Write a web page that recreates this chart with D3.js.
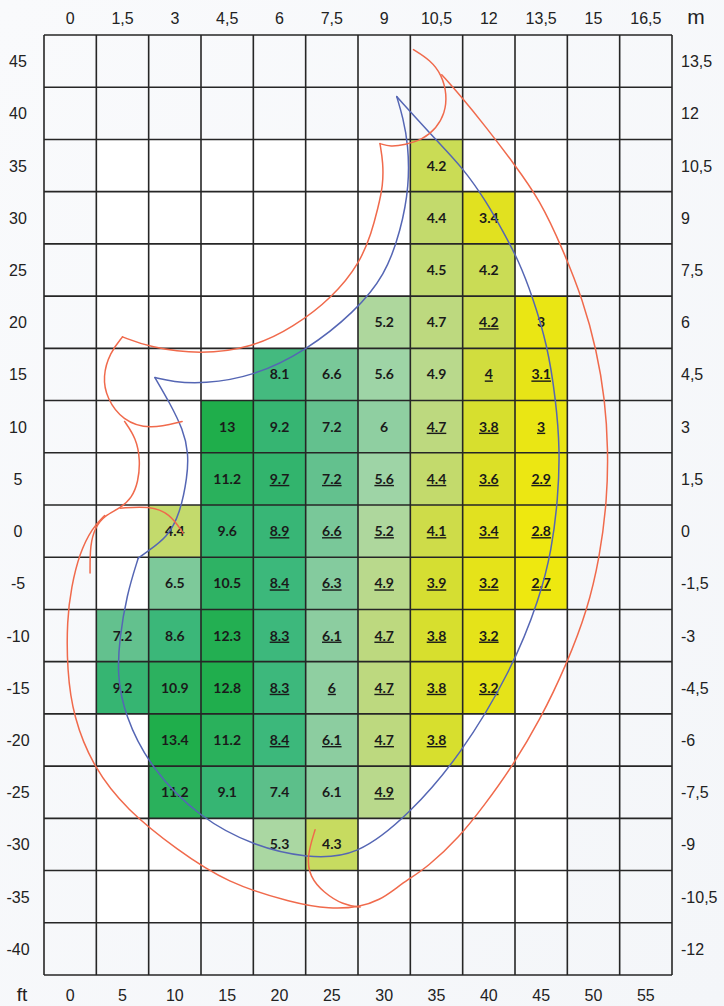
<!DOCTYPE html>
<html>
<head>
<meta charset="utf-8">
<script src="https://cdn.jsdelivr.net/npm/d3@7"></script>
<style>
  html, body { margin: 0; padding: 0; background: #f6f7f9; }
  svg { display: block; }
</style>
</head>
<body>
<svg id="chart" width="724" height="1006"></svg>
<script>
// ---------- DATA ----------
const colsFt = [0, 5, 10, 15, 20, 25, 30, 35, 40, 45, 50, 55];
const rowsFt = [45, 40, 35, 30, 25, 20, 15, 10, 5, 0, -5, -10, -15, -20, -25, -30, -35, -40];
const topLabels = ["0", "1,5", "3", "4,5", "6", "7,5", "9", "10,5", "12", "13,5", "15", "16,5"];
const rightLabels = ["13,5", "12", "10,5", "9", "7,5", "6", "4,5", "3", "1,5", "0", "-1,5", "-3", "-4,5", "-6", "-7,5", "-9", "-10,5", "-12"];

// values per row (rows top->bottom, columns left->right), null = empty cell
const _ = null;
const valueGrid = [
  [_, _, _, _, _, _, _, _, _, _, _, _],
  [_, _, _, _, _, _, _, _, _, _, _, _],
  [_, _, _, _, _, _, _, 4.2, _, _, _, _],
  [_, _, _, _, _, _, _, 4.4, 3.4, _, _, _],
  [_, _, _, _, _, _, _, 4.5, 4.2, _, _, _],
  [_, _, _, _, _, _, 5.2, 4.7, 4.2, 3, _, _],
  [_, _, _, _, 8.1, 6.6, 5.6, 4.9, 4, 3.1, _, _],
  [_, _, _, 13, 9.2, 7.2, 6, 4.7, 3.8, 3, _, _],
  [_, _, _, 11.2, 9.7, 7.2, 5.6, 4.4, 3.6, 2.9, _, _],
  [_, _, 4.4, 9.6, 8.9, 6.6, 5.2, 4.1, 3.4, 2.8, _, _],
  [_, _, 6.5, 10.5, 8.4, 6.3, 4.9, 3.9, 3.2, 2.7, _, _],
  [_, 7.2, 8.6, 12.3, 8.3, 6.1, 4.7, 3.8, 3.2, _, _, _],
  [_, 9.2, 10.9, 12.8, 8.3, 6, 4.7, 3.8, 3.2, _, _, _],
  [_, _, 13.4, 11.2, 8.4, 6.1, 4.7, 3.8, _, _, _, _],
  [_, _, 11.2, 9.1, 7.4, 6.1, 4.9, _, _, _, _, _],
  [_, _, _, _, 5.3, 4.3, _, _, _, _, _, _],
  [_, _, _, _, _, _, _, _, _, _, _, _],
  [_, _, _, _, _, _, _, _, _, _, _, _]
];
// underlined values (1 = underlined)
const underlineGrid = [
  [0,0,0,0,0,0,0,0,0,0,0,0],
  [0,0,0,0,0,0,0,0,0,0,0,0],
  [0,0,0,0,0,0,0,0,0,0,0,0],
  [0,0,0,0,0,0,0,0,0,0,0,0],
  [0,0,0,0,0,0,0,0,0,0,0,0],
  [0,0,0,0,0,0,0,0,1,0,0,0],
  [0,0,0,0,0,0,0,0,1,1,0,0],
  [0,0,0,0,0,0,0,1,1,1,0,0],
  [0,0,0,0,1,1,1,1,1,1,0,0],
  [0,0,0,0,1,1,1,1,1,1,0,0],
  [0,0,0,0,1,1,1,1,1,1,0,0],
  [0,0,0,0,1,1,1,1,1,0,0,0],
  [0,0,0,0,1,1,1,1,1,0,0,0],
  [0,0,0,0,1,1,1,1,0,0,0,0],
  [0,0,0,0,0,0,1,0,0,0,0,0],
  [0,0,0,0,0,0,0,0,0,0,0,0],
  [0,0,0,0,0,0,0,0,0,0,0,0],
  [0,0,0,0,0,0,0,0,0,0,0,0]
];

// colour ramp (value -> fill)
const colorStops = [2.8, 3.3, 3.9, 4.4, 4.9, 5.4, 6.3, 7.3, 8.3, 9.5, 11, 13];
const colorRange = ['#eee80f', '#e3e21c', '#d5de32', '#c3da6c', '#b9d98c', '#a6d6a8', '#84cb9e', '#5fc08c', '#3db87c', '#33b46f', '#2bb15e', '#1fae4b'];

// outline curves, in (ft, ft) coordinates
const blueLeftEdge = [[8.1,14.7],[9.5,12.3],[10.8,9.7],[11.3,7.5],[11.2,5.2],[10.5,1.7],[9.3,-0.6],[7.3,-2.0],[6.5,-2.6]];
const blueOuter = [[6.5,-2.6],[5.4,-6.1],[4.7,-10.4],[4.5,-13.8],[5.2,-17.6],[7.6,-22.6],[12.4,-27.5],[17.7,-30.2],[22.6,-31.3],[27.4,-31.2],
  [32.5,-27.0],[37.2,-21.6],[42.2,-13.3],[44.9,-6.3],[46.0,-1.8],[46.6,3.0],[46.8,7.8],[46.4,12.6],[45.6,17.8],[44.2,22.4],[42.8,26.0],
  [41.4,28.6],[39.8,31.5],[37.5,34.8],[35.0,37.4],[31.2,41.6]];
const blueInner = [[31.2,41.6],[31.8,39.6],[32.3,37.0],[32.4,33.1],[31.6,28.8],[30.1,24.5],[27.2,21.0],[22.6,17.3],[17.5,14.8],[12.7,14.1],[9.8,14.3],[8.1,14.7]];

const redTopArc = [[32.8,46.1],[34.4,45.1],[35.5,43.7],[36.0,41.8],[35.8,40.0],[35.0,38.6],[33.7,37.5],[32.0,37.0],[30.6,36.8],[29.6,37.1]];
const redInner = [[29.6,37.1],[29.9,35.3],[29.9,33.1],[29.4,30.9],[28.8,28.6],[27.7,25.7],[25.1,22.4],[21.3,19.5],[17.5,17.6],[12.4,16.9],[7.6,17.6],[5.0,18.6]];
const redBowl = [[5.0,18.6],[3.8,17.1],[3.1,14.8],[3.5,12.7],[5.0,10.6],[7.6,9.7],[10.7,10.5]];
const redStem = [[5.2,10.5],[6.3,8.9],[6.7,6.8],[6.5,4.7],[5.9,3.2],[4.8,2.2],[3.3,1.5],[2.4,0.4],[1.9,-1.3],[1.9,-4.0]];
const redBranch = [[4.8,2.2],[7.6,2.4],[9.5,1.7],[10.8,-0.2]];
const redOuter = [[35.5,43.7],[37.2,41.8],[39.8,38.6],[42.3,35.3],[44.9,31.7],[47.1,26.9],[49.0,22.1],[50.3,17.3],[51.1,12.6],[51.4,7.8],
  [51.3,3.0],[50.6,-2.5],[49.4,-7.6],[47.5,-12.6],[44.9,-18.1],[42.0,-22.9],[39.6,-26.2],[37.2,-29.3],[34.1,-32.2],[32.2,-33.4],[31.0,-34.3],
  [29.6,-35.3],[27.7,-36.0],[24.8,-36.2],[21.3,-35.6],[15.0,-33.7],[10.2,-30.5],[5.4,-26.7],[2.2,-22.6],[0.3,-17.8],[-0.3,-13.3],
  [-0.3,-8.5],[0.1,-5.4],[0.9,-2.1],[2.1,0.3],[3.3,1.5]];
const redHook = [[23.4,-28.6],[22.6,-31.2],[22.9,-33.1],[24.2,-34.6],[26.1,-35.8],[27.7,-36.0]];

// ---------- DRAW ----------
const svg = d3.select('#chart');
const W = 724, H = 1006;

const x = d3.scaleLinear().domain([-2.5, 57.5]).range([44, 672]);
const y = d3.scaleLinear().domain([47.5, -42.5]).range([35, 975]);
const cw = x(5) - x(0), ch = y(0) - y(5);
const color = d3.scaleLinear().domain(colorStops).range(colorRange).clamp(true);

// subtle background
const defs = svg.append('defs');
const grad = defs.append('linearGradient').attr('id', 'bg').attr('x1', 0).attr('y1', 0).attr('x2', 1).attr('y2', 1);
grad.append('stop').attr('offset', '0%').attr('stop-color', '#f9fafc');
grad.append('stop').attr('offset', '100%').attr('stop-color', '#f4f6f9');
svg.append('rect').attr('width', W).attr('height', H).attr('fill', 'url(#bg)');

// white inner area
svg.append('rect')
  .attr('x', x(2.5)).attr('y', y(37.5))
  .attr('width', x(47.5) - x(2.5)).attr('height', y(-37.5) - y(37.5))
  .attr('fill', '#ffffff');

// cells
const cells = [];
valueGrid.forEach((row, ri) => row.forEach((v, ci) => {
  if (v !== null) cells.push({ r: rowsFt[ri], c: colsFt[ci], v: v, u: underlineGrid[ri][ci] === 1 });
}));

svg.append('g').selectAll('rect').data(cells).join('rect')
  .attr('x', d => x(d.c) - cw / 2)
  .attr('y', d => y(d.r) - ch / 2)
  .attr('width', cw).attr('height', ch)
  .attr('fill', d => color(d.v));

// grid lines
const gridG = svg.append('g').attr('stroke', '#262626').attr('stroke-width', 1.6);
d3.range(colsFt.length + 1).forEach(i => {
  const xv = x(colsFt[0] - 2.5 + i * 5);
  gridG.append('line').attr('x1', xv).attr('x2', xv).attr('y1', y(47.5)).attr('y2', y(-42.5));
});
d3.range(rowsFt.length + 1).forEach(i => {
  const yv = y(rowsFt[0] + 2.5 - i * 5);
  gridG.append('line').attr('x1', x(-2.5)).attr('x2', x(57.5)).attr('y1', yv).attr('y2', yv);
});

// cell labels
svg.append('g').selectAll('text').data(cells).join('text')
  .attr('x', d => x(d.c))
  .attr('y', d => y(d.r) + 5)
  .attr('text-anchor', 'middle')
  .attr('font-family', 'Lato, "Open Sans", sans-serif')
  .attr('font-weight', 'bold')
  .attr('font-size', 14)
  .attr('fill', '#1a1a1a')
  .style('text-decoration', d => d.u ? 'underline' : 'none')
  .text(d => String(d.v));

// curves
const line = d3.line().x(d => x(d[0])).y(d => y(d[1])).curve(d3.curveBasis);
const curveG = svg.append('g').attr('fill', 'none').attr('stroke-width', 1.5).attr('stroke-linecap', 'round');
[blueLeftEdge, blueOuter, blueInner].forEach(pts => {
  curveG.append('path').attr('d', line(pts)).attr('stroke', '#5566b4');
});
[redTopArc, redInner, redBowl, redStem, redBranch, redOuter, redHook].forEach(pts => {
  curveG.append('path').attr('d', line(pts)).attr('stroke', '#f06a4c');
});

// axis labels
const axisFont = '"Liberation Sans", Arial, sans-serif';
const lab = svg.append('g').attr('font-family', axisFont).attr('fill', '#222').attr('font-size', 16);
// top (metres)
lab.selectAll('.top').data(colsFt).join('text')
  .attr('x', d => x(d)).attr('y', 24).attr('text-anchor', 'middle')
  .text((d, i) => topLabels[i]);
// bottom (feet)
lab.selectAll('.bot').data(colsFt).join('text')
  .attr('x', d => x(d)).attr('y', 1001).attr('text-anchor', 'middle')
  .text(d => String(d));
// left (feet)
lab.selectAll('.left').data(rowsFt).join('text')
  .attr('x', 18).attr('y', d => y(d) + 6).attr('text-anchor', 'middle')
  .text(d => String(d));
// right (metres)
lab.selectAll('.right').data(rowsFt).join('text')
  .attr('x', 681).attr('y', d => y(d) + 6).attr('text-anchor', 'start')
  .text((d, i) => rightLabels[i]);
// unit labels
lab.append('text').attr('x', 696).attr('y', 24).attr('text-anchor', 'middle').attr('font-size', 21).text('m');
lab.append('text').attr('x', 22).attr('y', 1001).attr('text-anchor', 'middle').attr('font-size', 19).text('ft');
</script>
</body>
</html>
